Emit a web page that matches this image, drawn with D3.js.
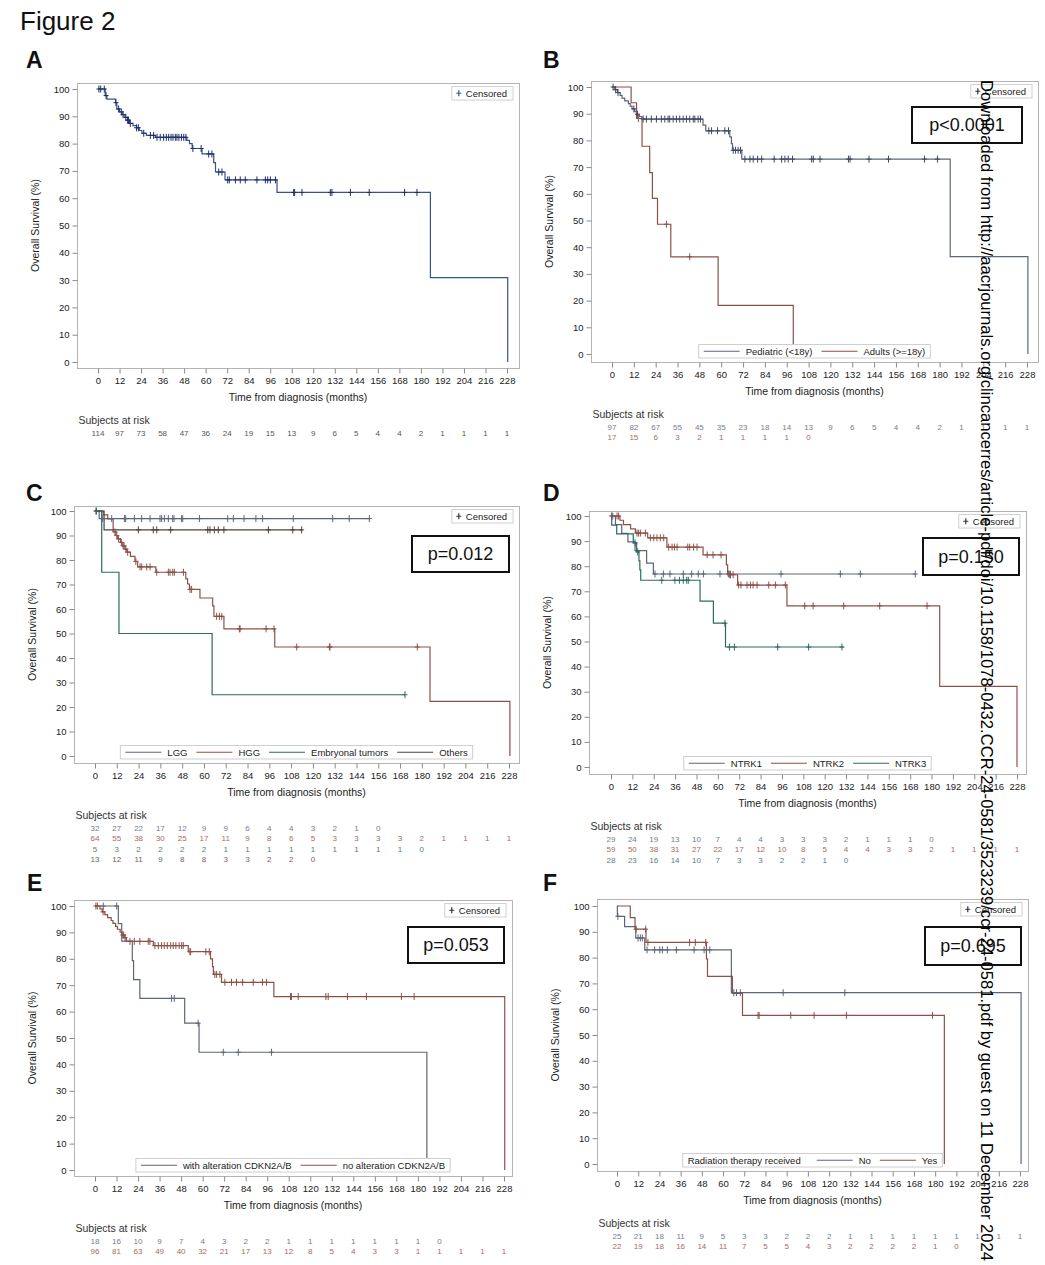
<!DOCTYPE html>
<html><head><meta charset="utf-8">
<script src="https://cdn.jsdelivr.net/npm/d3@7"></script>
<style>body{margin:0;background:#fff}</style>
</head><body>
<svg id="fig" width="1045" height="1265"></svg>
<script>
// ---------- tick labels ----------
const xTicks = [0,12,24,36,48,60,72,84,96,108,120,132,144,156,168,180,192,204,216,228];
const yTicks = [0,10,20,30,40,50,60,70,80,90,100];

// ---------- Panel A : all patients ----------
const aSteps = [[0,100],[4.0,97.6],[5.0,96.3],[9.8,95.0],[10.5,92.7],[12,91.6],[13.5,90.6],[15,89.6],[16.5,88.6],[17.5,87.4],[19.5,86.6],[21.5,85.8],[23,84.8],[24.5,83.8],[27,83.0],[32,82.3],[49.5,81.2],[51,80.0],[52.5,78.2],[58,76.2],[64.5,73.0],[65.5,69.6],[70.8,66.7],[99.8,62.1],[185.3,30.9],[228.4,0]];
const aCensor = [0.5,1.5,3.5,4.5,10,11.5,13,14,15.5,16.5,17,18,21.5,22.5,25.5,29.2,31,32.9,34.7,36.6,38.1,39.4,40.7,41.8,43.1,44,45.1,46.5,47.8,49,52.9,57.5,61.7,63.5,67.3,69.1,72.3,73.2,76.6,79.3,82.1,88.6,93.3,94.6,96.1,98.9,109.1,109.6,113.7,129.5,130.4,140.7,151.2,170.9,177.8];
const aEnd = 228.4;
const aRisk = [114,97,73,58,47,36,24,19,15,13,9,6,5,4,4,2,1,1,1,1];

// ---------- Panel B : age ----------
const bLabels = ["Pediatric (<18y)","Adults (>=18y)"];
const bPedSteps = [[0,100],[1.5,99.0],[3,97.9],[4.5,96.9],[5.5,95.8],[7,94.8],[9,93.8],[10,92.8],[11,91.8],[12.5,90.8],[13.5,89.8],[15,88.9],[16.5,88.0],[50,85.7],[51.5,83.6],[64.7,81.3],[65.6,78.8],[66.2,76.3],[71.3,73.0],[185.8,36.5],[228.5,0]];
const bPedCensor = [0.6,2,3.3,12,14,17.1,18.9,21.6,24.4,27.1,29,30.8,31.7,33.6,35.4,37.2,39.1,40.9,42.7,44.6,45.5,47.3,48.6,53.2,54.7,58,62,64,66.6,67.9,69.3,70.6,73,75.8,77.6,80,82.2,89.1,93.2,95,96.8,99.2,109.7,110.6,114.3,129.9,130.8,141.2,151.9,171.7,178.8];
const bPedEnd = 228.5;
const bPedRisk = [97,82,67,55,45,35,23,18,14,13,9,6,5,4,4,2,1,1,1,1];
const bAdultSteps = [[0,100],[10.5,94.1],[13.5,88.2],[16.5,77.8],[20.7,67.9],[22.2,58.3],[25,48.6],[32.3,36.4],[58.3,18.2],[99.6,0]];
const bAdultCensor = [14.5,29.9,42.7];
const bAdultEnd = 99.6;
const bAdultRisk = [17,15,6,3,2,1,1,1,1,0];
const bP = "p<0.0001";

// ---------- Panel C : histology ----------
const cLabels = ["LGG","HGG","Embryonal tumors","Others"];
const cLggSteps = [[0,100],[2.3,96.9]];
const cLggCensor = [0.5,4.2,9.2,16.2,16.9,21.7,25.7,30.3,35.8,36.7,38.2,40.4,42.8,43.5,47.7,48.3,57.5,73.1,76.2,82.1,88.6,92.3,109.2,130.9,140,151.1];
const cLggEnd = 151.5;
const cLggRisk = [32,27,22,17,12,9,9,6,4,4,3,2,1,0];
const cHggSteps = [[0,100],[4.5,98.4],[7,96.8],[10,91.5],[11.5,90.0],[12.5,88.6],[14,87.2],[15,85.8],[16.5,84.4],[17.5,83.2],[19.5,81.5],[22,79.4],[23.5,77.2],[33.5,75.0],[50,72.3],[51,70.2],[52,68.0],[57.8,64.5],[64.8,61.3],[65.5,57.0],[71,51.9],[99,44.5],[184.5,22.3],[228.5,0]];
const cHggCensor = [11,12,13,14.5,15.5,16,17,18,22.5,24.8,25.7,28.5,30.3,34,40.4,41.3,42.8,43.7,48.7,52.3,53.2,67,68.5,69.8,79.5,79.9,94.2,98.6,111.1,129.1,129.4,177.5];
const cHggEnd = 228.5;
const cHggRisk = [64,55,38,30,25,17,11,9,8,6,5,3,3,3,3,2,1,1,1,1];
const cEmbSteps = [[0,100],[3.7,75],[13.2,50],[64.5,25]];
const cEmbCensor = [0.8,170.7];
const cEmbEnd = 170.7;
const cEmbRisk = [5,3,2,2,2,2,1,1,1,1,1,1,1,1,1,0];
const cOthSteps = [[0,100],[5,92.3]];
const cOthCensor = [23.9,32.1,34,41.7,62.1,63.3,65.7,67.9,71,95.5,108.9,113.8];
const cOthEnd = 114.3;
const cOthRisk = [13,12,11,9,8,8,3,3,2,2,0];
const cP = "p=0.012";

// ---------- Panel D : NTRK gene ----------
const dLabels = ["NTRK1","NTRK2","NTRK3"];
const dN1Steps = [[0,100],[2.5,96.6],[6,93.1],[9.5,89.7],[13.5,86.2],[20,81.2],[23.8,76.9]];
const dN1Censor = [1,24.7,29.4,33.1,40.6,45.3,49,51.9,61.2,65.9,66.8,95.5,128.8,140,170.9];
const dN1End = 171;
const dN1Risk = [29,24,19,13,10,7,4,4,3,3,3,2,1,1,1,0];
const dN2Steps = [[0,100],[5,98.3],[7,96.6],[11,94.9],[13.7,93.2],[20.6,91.3],[31.4,87.6],[51.7,84.5],[64.8,80.5],[65.5,76.6],[71.1,72.5],[98.8,64.2],[184.6,32.1],[228,0]];
const dN2Censor = [0.3,3.4,4.3,14.6,15.5,16.5,19.3,22.1,24,25.8,27.7,29.6,32.4,34.3,35.6,37.1,43.1,44.2,46.4,48.3,54,57.3,61.8,66.7,67.1,68.6,71.7,73,76.4,78.3,79.8,82,88.6,92.3,97.9,108.8,113.5,130.7,150.9,177.5];
const dN2End = 228;
const dN2Risk = [59,50,38,31,27,22,17,12,10,8,5,4,4,3,3,2,1,1,1,1];
const dN3Steps = [[0,100],[0.4,96.4],[3.2,92.9],[12.5,89.3],[14.4,85.7],[15.7,82.1],[16.2,78.5],[16.7,74.4],[50,66.1],[57.5,57.3],[64.3,47.8]];
const dN3Censor = [13.5,15,28.5,35.9,38.4,40.6,42.5,43.4,64,66.5,69.3,93.6,111,129.7];
const dN3End = 130.7;
const dN3Risk = [28,23,16,14,10,7,3,3,2,2,1,0];
const dP = "p=0.150";

// ---------- Panel E : CDKN2A/B ----------
const eLabels = ["with alteration CDKN2A/B","no alteration CDKN2A/B"];
const eWithSteps = [[0,100],[13,93.3],[14.9,86.7],[20.8,79.3],[21.5,72.1],[25,65.0],[50,55.6],[58,44.6],[185,0]];
const eWithCensor = [4.6,12.1,42.7,44.2,57.5,71.5,79.9,98.4];
const eWithEnd = 185;
const eWithRisk = [18,16,10,9,7,4,3,2,2,1,1,1,1,1,1,1,0];
const eNoSteps = [[0,100],[2.8,98.9],[4,97.8],[5.5,96.7],[7,95.6],[9,94.5],[10,93.4],[11.5,92.3],[12.5,91.2],[14,90.1],[15,89.0],[16.5,88.0],[17.5,86.6],[32.5,85.0],[52,82.7],[64.4,80.0],[65.5,77.0],[66,74.1],[70.5,71.1],[99.7,65.7],[228.4,0]];
const eNoCensor = [0.5,1.3,4.5,15.5,16,16.8,19.5,21.9,25,29.7,30.6,33.4,35.3,37.1,38.6,40.3,42.2,43.6,45.1,46.9,48.3,49.2,52.9,53.3,61.8,63.7,66.8,67.8,69.6,72.4,76.1,78.9,82.3,88.2,93.4,95.6,109,109.5,113.3,128.7,130,140.7,151.3,170.8,177.9];
const eNoEnd = 228.4;
const eNoRisk = [96,81,63,49,40,32,21,17,13,12,8,5,4,3,3,1,1,1,1,1];
const eP = "p=0.053";

// ---------- Panel F : radiation therapy ----------
const fTitle = "Radiation therapy received";
const fLabels = ["No","Yes"];
const fNoSteps = [[0,100],[0.2,96.0],[4.3,92.0],[10.6,87.6],[15.7,83.0],[64.7,66.4],[228.6,0]];
const fNoCensor = [0.5,11.9,13.2,14.3,17,21.3,24.2,25.7,28.5,33.6,43.6,49.3,52.5,66.1,67.6,69.8,94,128.9];
const fNoEnd = 228.6;
const fNoRisk = [25,21,18,11,9,5,3,3,2,2,2,1,1,1,1,1,1,1,1,1];
const fYesSteps = [[0,100],[7.5,95.5],[10.2,91.0],[16.4,85.9],[50.6,79.5],[51.2,72.7],[65.3,66.1],[71,57.6],[185.2,0]];
const fYesCensor = [10.8,16.2,17.5,41.1,44.3,50.2,79.8,80.4,98.3,111.5,129.8,178.5];
const fYesEnd = 185.2;
const fYesRisk = [22,19,18,16,14,11,7,5,5,4,3,2,2,2,2,1,0];
const fP = "p=0.695";

const watermark = "Downloaded from http://aacrjournals.org/clincancerres/article-pdf/doi/10.1158/1078-0432.CCR-24-0581/3523239/ccr-24-0581.pdf by guest on 11 December 2024";

// ---------- styles ----------
const FONT = "'Liberation Sans', Arial, sans-serif";
const C_A = '#3a5290', C_A2 = '#1f2f68';
const C_SLATE = '#5d6679', C_BROWN = '#8c5248', C_TEAL = '#2e6a60', C_DARK = '#4c433b';
const R_SLATE = '#757d8e', R_BROWN = '#a46c63', R_TEAL = '#55827a', R_DARK = '#6d655d';

const S = (steps, censor, end, color, risk, riskColor, mark) => ({steps, censor, end, color, risk, riskColor, mark: mark || color});

const panels = [
  {letter:'A', lx:26, ly:68, frame:[77,83,519,368], xr:[98,507], yr:[362,89],
   series:[S(aSteps,aCensor,aEnd,C_A,aRisk,'#555',C_A2)], censLegColor:C_A, p:null, legend:null},
  {letter:'B', lx:543, ly:68, frame:[591,81,1038,362], xr:[612,1027], yr:[354,87],
   series:[S(bPedSteps,bPedCensor,bPedEnd,C_SLATE,bPedRisk,R_SLATE,'#3c4866'), S(bAdultSteps,bAdultCensor,bAdultEnd,C_BROWN,bAdultRisk,R_BROWN)],
   p:{text:bP, box:[912,107,110,36]}, legend:{labels:bLabels, colors:[C_SLATE,C_BROWN]}},
  {letter:'C', lx:26, ly:501, frame:[74,506,519,763], xr:[95,509], yr:[756,511],
   series:[S(cLggSteps,cLggCensor,cLggEnd,C_SLATE,cLggRisk,R_SLATE), S(cHggSteps,cHggCensor,cHggEnd,C_BROWN,cHggRisk,R_BROWN),
           S(cEmbSteps,cEmbCensor,cEmbEnd,C_TEAL,cEmbRisk,R_TEAL), S(cOthSteps,cOthCensor,cOthEnd,C_DARK,cOthRisk,R_DARK)],
   p:{text:cP, box:[412,536,97,36]}, legend:{labels:cLabels, colors:[C_SLATE,C_BROWN,C_TEAL,C_DARK]}},
  {letter:'D', lx:543, ly:501, frame:[589,511,1026,774], xr:[611,1017], yr:[767,516],
   series:[S(dN1Steps,dN1Censor,dN1End,C_SLATE,dN1Risk,R_SLATE), S(dN2Steps,dN2Censor,dN2End,C_BROWN,dN2Risk,R_BROWN),
           S(dN3Steps,dN3Censor,dN3End,C_TEAL,dN3Risk,R_TEAL)],
   p:{text:dP, box:[923,538,96,37]}, legend:{labels:dLabels, colors:[C_SLATE,C_BROWN,C_TEAL]}},
  {letter:'E', lx:27, ly:891, frame:[74,900,512,1176], xr:[95,504], yr:[1170,906],
   series:[S(eWithSteps,eWithCensor,eWithEnd,C_SLATE,eWithRisk,R_SLATE), S(eNoSteps,eNoCensor,eNoEnd,C_BROWN,eNoRisk,R_BROWN)],
   p:{text:eP, box:[408,927,96,36]}, legend:{labels:eLabels, colors:[C_SLATE,C_BROWN]}},
  {letter:'F', lx:543, ly:891, frame:[597,899,1028,1171], xr:[617,1020], yr:[1164,906],
   series:[S(fNoSteps,fNoCensor,fNoEnd,C_SLATE,fNoRisk,R_SLATE), S(fYesSteps,fYesCensor,fYesEnd,C_BROWN,fYesRisk,R_BROWN)],
   p:{text:fP, box:[925,927,96,38]}, legend:{title:fTitle, labels:fLabels, colors:[C_SLATE,C_BROWN]}},
];

const svg = d3.select('#fig');
svg.append('rect').attr('width',1045).attr('height',1265).attr('fill','#fff');

svg.append('text').attr('x',20).attr('y',30).attr('font-family',FONT).attr('font-size',26).attr('fill','#111').text('Figure 2');

function survAt(steps, t){ let s = steps[0][1]; for (const d of steps){ if (d[0] <= t) s = d[1]; else break; } return s; }

function measure(g, txt, size){
  const t = g.append('text').attr('font-family',FONT).attr('font-size',size).text(txt);
  const w = t.node().getComputedTextLength(); t.remove(); return w;
}

panels.forEach(p => {
  const g = svg.append('g');
  const [L,T,R,B] = p.frame;
  const x = d3.scaleLinear().domain([0,228]).range(p.xr);
  const y = d3.scaleLinear().domain([0,100]).range(p.yr);

  g.append('text').attr('x',p.lx).attr('y',p.ly).attr('font-family',FONT).attr('font-weight','bold').attr('font-size',23).attr('fill','#111').text(p.letter);

  g.append('rect').attr('x',L+.5).attr('y',T+.5).attr('width',R-L).attr('height',B-T).attr('fill','none').attr('stroke','#b4b4b4');

  const ya = g.append('g').attr('transform',`translate(${L+.5},0)`).call(d3.axisLeft(y).tickValues(yTicks).tickSize(5).tickPadding(3));
  const xa = g.append('g').attr('transform',`translate(0,${B+.5})`).call(d3.axisBottom(x).tickValues(xTicks).tickSize(5).tickPadding(4));
  [ya,xa].forEach(a => {
    a.select('.domain').remove();
    a.selectAll('line').attr('stroke','#8a8a8a');
    a.selectAll('text').attr('font-family',FONT).attr('font-size',9.5).attr('fill','#222');
  });

  g.append('text').attr('x',(L+R)/2).attr('y',B+33).attr('text-anchor','middle').attr('font-family',FONT).attr('font-size',10.5).attr('fill','#222').text('Time from diagnosis (months)');
  g.append('text').attr('transform',`translate(${L-38},${(T+B)/2}) rotate(-90)`).attr('text-anchor','middle').attr('font-family',FONT).attr('font-size',10.5).attr('fill','#222').text('Overall Survival (%)');

  // curves
  const line = d3.line().x(d => x(d[0])).y(d => y(d[1])).curve(d3.curveStepAfter);
  p.series.forEach(s => {
    const pts = s.steps.slice();
    const last = pts[pts.length-1];
    if (s.end > last[0]) pts.push([s.end, last[1]]);
    g.append('path').attr('d', line(pts)).attr('fill','none').attr('stroke', s.color).attr('stroke-width',1.2);
  });
  p.series.forEach(s => {
    g.append('g').selectAll('path').data(s.censor).join('path')
      .attr('d', t => { const cx = x(t), cy = y(survAt(s.steps, t)); return `M${cx},${cy-3.5}V${cy+3.5}M${cx-2.5},${cy}H${cx+2.5}`; })
      .attr('stroke', s.mark).attr('stroke-width',1).attr('fill','none');
  });

  // censored legend
  {
    const w = measure(g,'Censored',9.5) + 20;
    const bx = R - 6 - w, by = T + 3.5;
    g.append('rect').attr('x',bx).attr('y',by).attr('width',w).attr('height',13.5).attr('fill','#fff').attr('stroke','#d0d0d0');
    const mc = p.censLegColor || '#333';
    const cx = bx + 7, cy = by + 6.75;
    g.append('path').attr('d',`M${cx},${cy-3}V${cy+3}M${cx-2.5},${cy}H${cx+2.5}`).attr('stroke',mc).attr('stroke-width',1.2);
    g.append('text').attr('x',bx+14).attr('y',by+10.3).attr('font-family',FONT).attr('font-size',9.5).attr('fill','#222').text('Censored');
  }

  // bottom legend
  if (p.legend) {
    const fs = 9.5, lineW = 36, gapT = 6, gapE = 9, pad = 5;
    let items = [];
    let total = pad;
    if (p.legend.title) { const tw = measure(g,p.legend.title,fs); items.push({type:'title', w:tw, text:p.legend.title}); total += tw + 16; }
    p.legend.labels.forEach((lab,i) => {
      const tw = measure(g,lab,fs);
      items.push({type:'entry', w:tw, text:lab, color:p.legend.colors[i]});
      total += lineW + gapT + tw + (i < p.legend.labels.length-1 ? gapE : 0);
    });
    total += pad;
    const bx = (L+R)/2 - total/2, bh = 13.5, by = B - 4 - bh;
    g.append('rect').attr('x',bx).attr('y',by).attr('width',total).attr('height',bh).attr('fill','#fff').attr('stroke','#cfcfcf');
    let cx = bx + pad;
    const cy = by + bh/2;
    items.forEach((it,k) => {
      if (it.type === 'title') {
        g.append('text').attr('x',cx).attr('y',cy+3.4).attr('font-family',FONT).attr('font-size',fs).attr('fill','#222').text(it.text);
        cx += it.w + 16;
      } else {
        g.append('line').attr('x1',cx).attr('x2',cx+lineW).attr('y1',cy).attr('y2',cy).attr('stroke',it.color).attr('stroke-width',1.2);
        cx += lineW + gapT;
        g.append('text').attr('x',cx).attr('y',cy+3.4).attr('font-family',FONT).attr('font-size',fs).attr('fill','#222').text(it.text);
        cx += it.w + gapE;
      }
    });
  }

  // p-value box
  if (p.p) {
    const [bx,by,bw,bh] = p.p.box;
    g.append('rect').attr('x',bx).attr('y',by).attr('width',bw).attr('height',bh).attr('fill','#fff').attr('stroke','#111').attr('stroke-width',2);
    g.append('text').attr('x',bx+bw/2).attr('y',by+bh/2+6.3).attr('text-anchor','middle').attr('font-family',FONT).attr('font-size',18).attr('fill','#111').text(p.p.text);
  }

  // at-risk table
  g.append('text').attr('x',L+1.5).attr('y',B+56).attr('font-family',FONT).attr('font-size',10.5).attr('fill','#333').text('Subjects at risk');
  p.series.forEach((s,i) => {
    g.append('g').selectAll('text').data(s.risk).join('text')
      .attr('x',(d,j) => x(xTicks[j])).attr('y',B+68+i*10.4)
      .attr('text-anchor','middle').attr('font-family',FONT).attr('font-size',8).attr('fill',s.riskColor)
      .text(d => d);
  });
});

// watermark
{
  const wm = svg.append('text').attr('font-family',FONT).attr('font-size',20).attr('fill','#000').text(watermark);
  const len = wm.node().getComputedTextLength();
  wm.attr('font-size', 20*1182/len).attr('transform','translate(981,80) rotate(90)');
}
</script>
</body></html>
